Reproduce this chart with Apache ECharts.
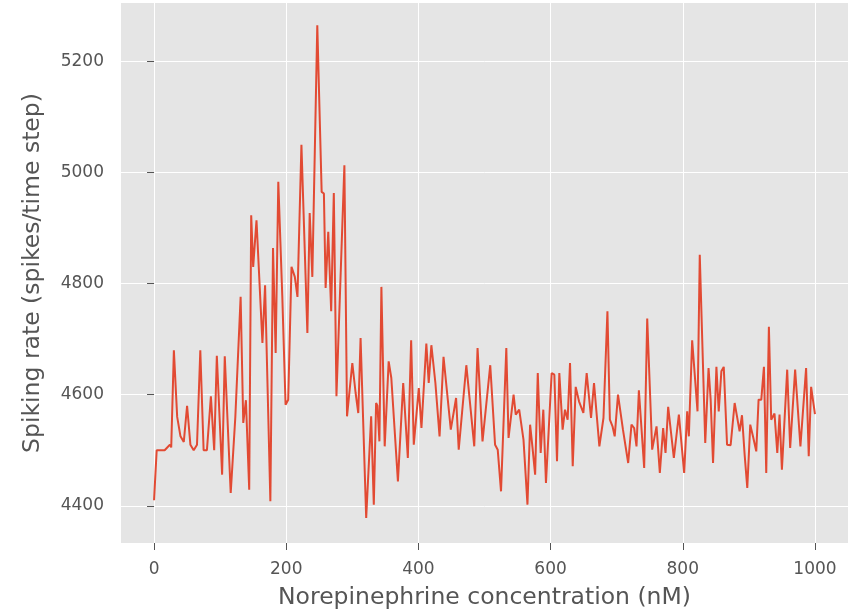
<!DOCTYPE html>
<html>
<head>
<meta charset="utf-8">
<script src="https://cdn.jsdelivr.net/npm/echarts@6/dist/echarts.min.js"></script>
<style>
  html, body { margin: 0; padding: 0; background: #fff; }
  #chart { width: 856px; height: 615px; }
</style>
</head>
<body>
<div id="chart"></div>
<script>
// concentration (nM) of each vertex
var concentration = [0, 4, 10, 16, 20, 24, 26, 30, 35, 40, 45, 50, 55, 60, 65, 70, 75, 80, 86, 91, 95, 103, 107, 116, 123, 131, 135, 139, 144, 147, 150, 155, 164, 168, 176, 180, 184, 188, 194, 199, 203, 208, 213, 217, 223, 232, 235.5, 239.5, 247, 253.6, 257, 259.6, 263.6, 268, 272, 276, 288, 292, 300, 305, 309, 312.5, 321, 328.5, 332.5, 336, 338, 341, 344, 349, 355, 359, 369, 377, 384, 389, 393, 400.6, 404.6, 412, 415.6, 419.6, 425.7, 432, 438, 441, 449, 457, 461, 472.5, 484.5, 489.5, 497, 508.7, 516, 520, 525, 533, 536.4, 544, 547.3, 552.5, 559, 565, 569, 572.6, 576.6, 580.6, 585, 589, 593, 601.6, 605.7, 609.7, 613.2, 618.2, 621.8, 625.8, 629.4, 633.5, 638, 643, 649.6, 654.6, 661.2, 665.7, 673.8, 680, 686, 689.7, 693.7, 697, 702, 704.5, 709.5, 717.4, 722.4, 726.4, 730, 733.6, 741.6, 746.2, 753.7, 760.3, 765.3, 770.3, 773.9, 777.9, 786.5, 794.1, 802.1, 806.7, 809.2, 814.2, 822.3, 825.7, 834, 839, 842.2, 845.8, 850.9, 854.4, 858.4, 862, 867, 872.4, 878.5, 886, 889.6, 893.6, 897.6, 902.1, 906.2, 911.2, 914.7, 918.8, 922.8, 926.3, 930.3, 933.8, 938.8, 943, 946.4, 950, 958, 962.5, 970, 978, 986.6, 990.6, 994.2, 1000];
// spiking rate at each vertex
var spikingRate = [4410, 4500, 4500, 4500, 4505, 4510, 4505, 4680, 4560, 4525, 4515, 4580, 4510, 4500, 4510, 4680, 4500, 4500, 4597, 4500, 4670, 4456, 4669, 4423, 4560, 4776, 4549, 4590, 4429, 4923, 4830, 4914, 4693, 4797, 4408, 4864, 4675, 4983, 4779, 4582, 4591, 4830, 4812, 4776, 5050, 4711, 4927, 4812, 5265, 4965, 4962, 4792, 4893, 4750, 4963, 4597, 5013, 4561, 4657, 4603, 4567, 4702, 4378, 4561, 4402, 4585, 4580, 4516, 4794, 4507, 4660, 4630, 4444, 4621, 4486, 4698, 4510, 4612, 4540, 4692, 4621, 4689, 4621, 4525, 4668, 4665, 4537, 4594, 4501, 4653, 4507, 4684, 4516, 4653, 4510, 4501, 4426, 4684, 4522, 4600, 4564, 4573, 4519, 4402, 4546, 4505, 4456, 4639, 4495, 4573, 4441, 4639, 4636, 4480, 4639, 4537, 4573, 4555, 4657, 4471, 4614, 4588, 4567, 4639, 4558, 4621, 4507, 4558, 4750, 4555, 4543, 4525, 4600, 4600, 4537, 4477, 4546, 4540, 4507, 4608, 4468, 4737, 4501, 4543, 4459, 4540, 4495, 4578, 4486, 4564, 4459, 4570, 4525, 4698, 4570, 4852, 4513, 4648, 4591, 4477, 4650, 4570, 4642, 4650, 4510, 4509, 4585, 4534, 4563, 4492, 4432, 4546, 4525, 4498, 4591, 4591, 4650, 4459, 4722, 4555, 4566, 4495, 4564, 4465, 4645, 4504, 4645, 4507, 4648, 4489, 4614, 4565];

var xTicks = [0, 200, 400, 600, 800, 1000];
var yTicks = [4400, 4600, 4800, 5000, 5200];

var chart = echarts.init(document.getElementById("chart"));
var textColor = "#555555";

var option = {
  backgroundColor: "#ffffff",
  animation: false,
  textStyle: { fontFamily: "DejaVu Sans" },
  grid: {
    left: 121,
    right: 8,
    top: 3,
    bottom: 72,
    show: true,
    backgroundColor: "#E5E5E5",
    borderWidth: 0
  },
  xAxis: {
    type: "value",
    min: -50,
    max: 1050,
    name: "Norepinephrine concentration (nM)",
    nameLocation: "middle",
    nameGap: 43,
    nameTextStyle: { color: textColor, fontSize: 23.5 },
    axisLine: { show: false },
    axisTick: {
      show: true,
      length: 7,
      lineStyle: { color: textColor, width: 1 },
      customValues: xTicks
    },
    axisLabel: {
      color: textColor,
      fontSize: 17,
      margin: 18,
      customValues: xTicks,
      formatter: function (v) { return String(v); }
    },
    splitLine: { show: true, lineStyle: { color: "#ffffff", width: 1 } }
  },
  yAxis: {
    type: "value",
    min: 4333,
    max: 5305,
    name: "Spiking rate (spikes/time step)",
    nameLocation: "middle",
    nameGap: 76,
    nameTextStyle: { color: textColor, fontSize: 23.5 },
    axisLine: { show: false },
    axisTick: {
      show: true,
      length: 7,
      lineStyle: { color: textColor, width: 1 },
      customValues: yTicks
    },
    axisLabel: {
      color: textColor,
      fontSize: 17,
      margin: 17,
      customValues: yTicks,
      formatter: function (v) { return String(v); }
    },
    splitLine: { show: true, lineStyle: { color: "#ffffff", width: 1 } }
  },
  series: [
    {
      type: "line",
      showSymbol: false,
      data: concentration.map(function (c, i) {
        return [c, spikingRate[i]];
      }),
      lineStyle: { color: "#E24A33", width: 2 },
      itemStyle: { color: "#E24A33" }
    }
  ]
};

chart.setOption(option);
</script>
</body>
</html>
